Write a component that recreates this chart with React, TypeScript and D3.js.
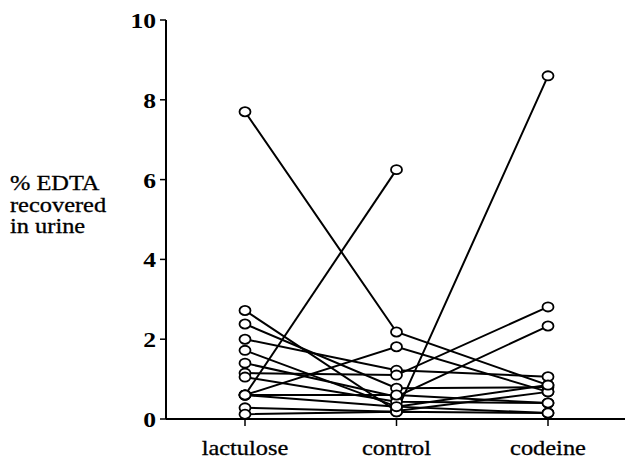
import * as d3 from "d3"
import React from "react"

// conditions along the x axis
const categories = ["lactulose", "control", "codeine"]

// % EDTA recovered per subject, one value per condition (null = missing)
const lactulose = [7.7, 0.6, 2.72, 2.38, 2.0, 1.72, 1.4, 1.15, 1.05, 0.6, 0.6, 0.28, 0.12, 0.6]
const control = [2.18, 6.25, 0.2, 0.77, 1.22, 0.31, 0.56, 1.1, 0.43, 1.81, 0.6, 0.18, 0.18, 0.31]
const codeine = [0.85, null, 0.68, 0.8, 1.06, 0.15, 2.33, 2.81, 0.4, 0.68, 0.4, 8.6, 0.15, 0.85]

const yTicks = [0, 2, 4, 6, 8, 10]
const yLabel = ["% EDTA", "recovered", "in urine"]

const W = 627
const H = 459
const sx = 1.22 // the scan is stretched sideways
const serif = "'Liberation Serif', 'Times New Roman', serif"

export default function App() {
  const xScale = d3.scalePoint<string>().domain(categories).range([245, 548])
  const yScale = d3.scaleLinear().domain([0, 10]).range([419, 20])
  const axisX = 166

  const subjects = lactulose.map((v, i) => [v, control[i], codeine[i]])

  const line = d3
    .line<[string, number | null]>()
    .defined((d) => d[1] != null)
    .x((d) => xScale(d[0]) as number)
    .y((d) => yScale(d[1] as number))

  const txt = (x: number, y: number) => `translate(${x},${y}) scale(${sx},1)`

  return (
    <svg width={W} height={H} style={{ position: "absolute", left: 0, top: 0, background: "#fff" }}>
      {/* y axis */}
      <line x1={axisX} x2={axisX} y1={yScale(10)} y2={yScale(0)} stroke="#000" strokeWidth={2} />
      {yTicks.map((t) => (
        <g key={t}>
          <line x1={axisX - 6} x2={axisX} y1={yScale(t)} y2={yScale(t)} stroke="#000" strokeWidth={1.5} />
          <text
            transform={txt(156, yScale(t) + 8)}
            textAnchor="end"
            fontFamily={serif}
            fontWeight="bold"
            fontSize={21}
          >{t}</text>
        </g>
      ))}
      {yLabel.map((s, i) => (
        <text
          key={s}
          transform={txt(10, 190 + i * 21.5)}
          fontFamily={serif}
          fontSize={20}
          stroke="#000"
          strokeWidth={0.3}
        >{s}</text>
      ))}

      {/* x axis */}
      <line x1={axisX} x2={625} y1={yScale(0)} y2={yScale(0)} stroke="#000" strokeWidth={2} />
      {categories.map((c) => (
        <g key={c}>
          <line x1={xScale(c)} x2={xScale(c)} y1={yScale(0)} y2={yScale(0) + 7} stroke="#000" strokeWidth={1.5} />
          <text
            transform={txt(xScale(c) as number, 455)}
            textAnchor="middle"
            fontFamily={serif}
            fontSize={20}
            stroke="#000"
            strokeWidth={0.3}
          >{c}</text>
        </g>
      ))}

      {/* subject lines */}
      {subjects.map((s, i) => (
        <path
          key={"l" + i}
          d={line(categories.map((c, j) => [c, s[j]] as [string, number | null])) || ""}
          fill="none"
          stroke="#000"
          strokeWidth={2}
        />
      ))}
      {subjects.map((s, i) =>
        s.map((v, j) =>
          v == null ? null : (
            <ellipse
              key={`p${i}-${j}`}
              cx={xScale(categories[j])}
              cy={yScale(v)}
              rx={5.5}
              ry={4.6}
              fill="#fff"
              stroke="#000"
              strokeWidth={1.8}
            />
          )
        )
      )}
    </svg>
  )
}
